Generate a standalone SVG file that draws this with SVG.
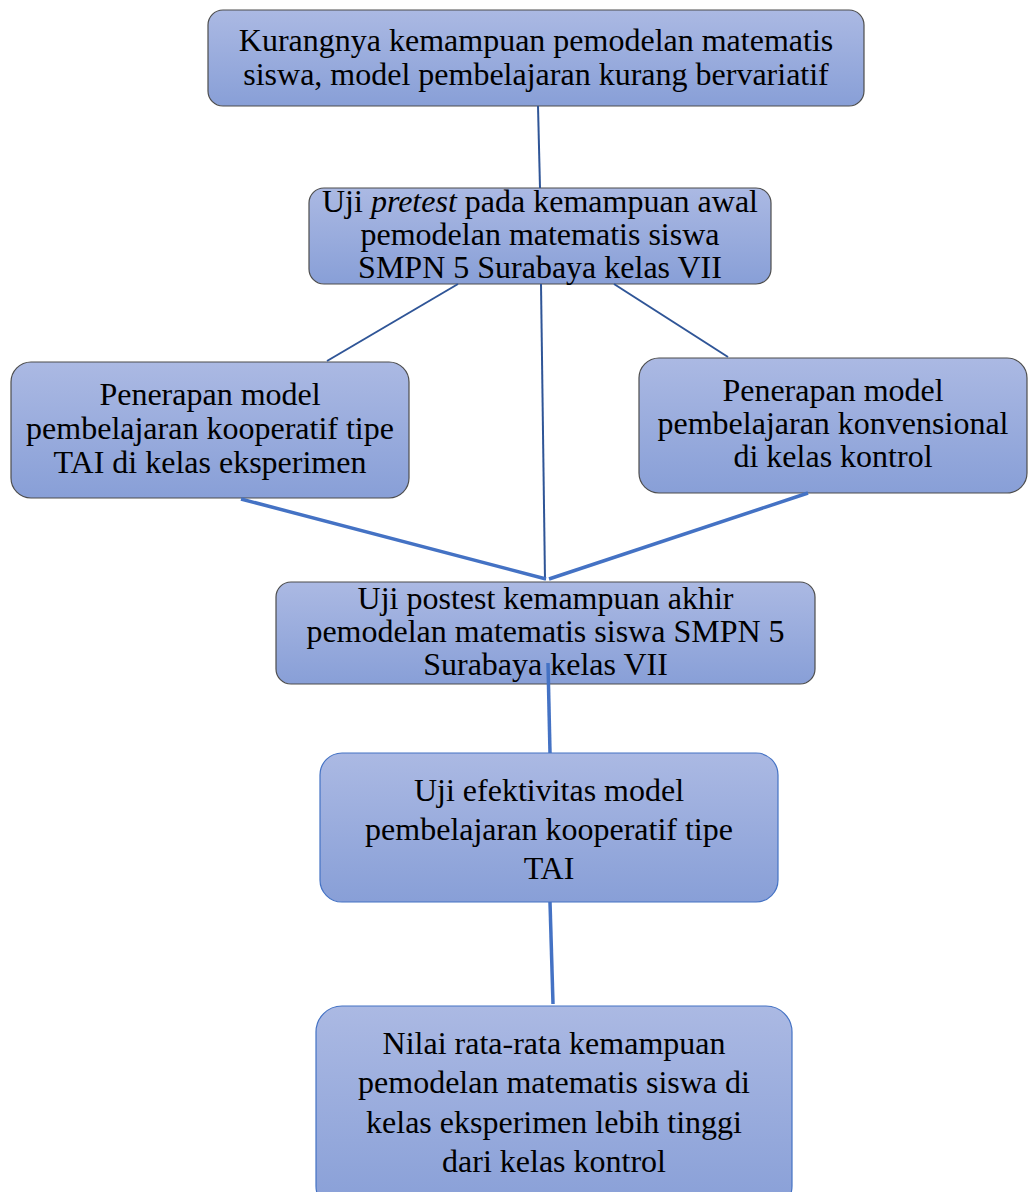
<svg xmlns="http://www.w3.org/2000/svg" width="1028" height="1192" viewBox="0 0 1028 1192">
<defs>
<linearGradient id="g" x1="0" y1="0" x2="0" y2="1">
<stop offset="0" stop-color="#abb9e3"/>
<stop offset="1" stop-color="#889fd7"/>
</linearGradient>
<style>
.box{fill:url(#g);stroke:#4d4d4d;stroke-width:1.2}
.boxb{fill:url(#g);stroke:#4472c4;stroke-width:1.2}
text{font-family:"Liberation Serif","Times New Roman",serif;font-size:32px;fill:#000;text-anchor:middle}
.c1{stroke:#2f5597;stroke-width:2;fill:none}
.c2{stroke:#4472c4;stroke-width:3.5;fill:none}
</style>
</defs>
<rect width="1028" height="1192" fill="#fff"/>
<g id="nodes">
<g id="n1">
<rect class="box" x="208" y="10" width="656" height="96" rx="15"/>
<text x="536" y="51">Kurangnya kemampuan pemodelan matematis</text>
<text x="536" y="85">siswa, model pembelajaran kurang bervariatif</text>
</g>
<g id="n2">
<rect class="box" x="309" y="188" width="462" height="96" rx="15"/>
<text x="540" y="212">Uji <tspan font-style="italic">pretest</tspan> pada kemampuan awal</text>
<text x="540" y="245">pemodelan matematis siswa</text>
<text x="540" y="278">SMPN 5 Surabaya kelas VII</text>
</g>
<g id="n3">
<rect class="box" x="11" y="362" width="398" height="136" rx="20"/>
<text x="210" y="405">Penerapan model</text>
<text x="210" y="439">pembelajaran kooperatif tipe</text>
<text x="210" y="473">TAI di kelas eksperimen</text>
</g>
<g id="n4">
<rect class="box" x="639" y="358" width="388" height="135" rx="20"/>
<text x="833" y="401">Penerapan model</text>
<text x="833" y="434">pembelajaran konvensional</text>
<text x="833" y="467">di kelas kontrol</text>
</g>
<g id="n5">
<rect class="box" x="276" y="582" width="539" height="102" rx="15"/>
<text x="545.5" y="609">Uji postest kemampuan akhir</text>
<text x="545.5" y="642">pemodelan matematis siswa SMPN 5</text>
<text x="545.5" y="675">Surabaya kelas VII</text>
</g>
<g id="n6">
<rect class="boxb" x="320" y="753" width="458" height="149" rx="22"/>
<text x="549" y="801">Uji efektivitas model</text>
<text x="549" y="840">pembelajaran kooperatif tipe</text>
<text x="549" y="879">TAI</text>
</g>
<g id="n7">
<rect class="boxb" x="316" y="1006" width="476" height="206" rx="26"/>
<text x="554" y="1054">Nilai rata-rata kemampuan</text>
<text x="554" y="1093">pemodelan matematis siswa di</text>
<text x="554" y="1133">kelas eksperimen lebih tinggi</text>
<text x="554" y="1172">dari kelas kontrol</text>
</g>
</g>
<g id="connectors">
<line class="c1" x1="538" y1="106" x2="540" y2="188"/>
<line class="c1" x1="458" y1="284" x2="327" y2="361"/>
<line class="c1" x1="614" y1="284" x2="728" y2="357"/>
<line class="c1" x1="541" y1="284" x2="545" y2="580"/>
<line class="c2" x1="241" y1="499" x2="546" y2="579"/>
<line class="c2" x1="808" y1="493" x2="549" y2="579"/>
<line class="c2" x1="548" y1="663" x2="550" y2="753"/>
<line class="c2" x1="550" y1="902" x2="553" y2="1004"/>
</g>
</svg>
